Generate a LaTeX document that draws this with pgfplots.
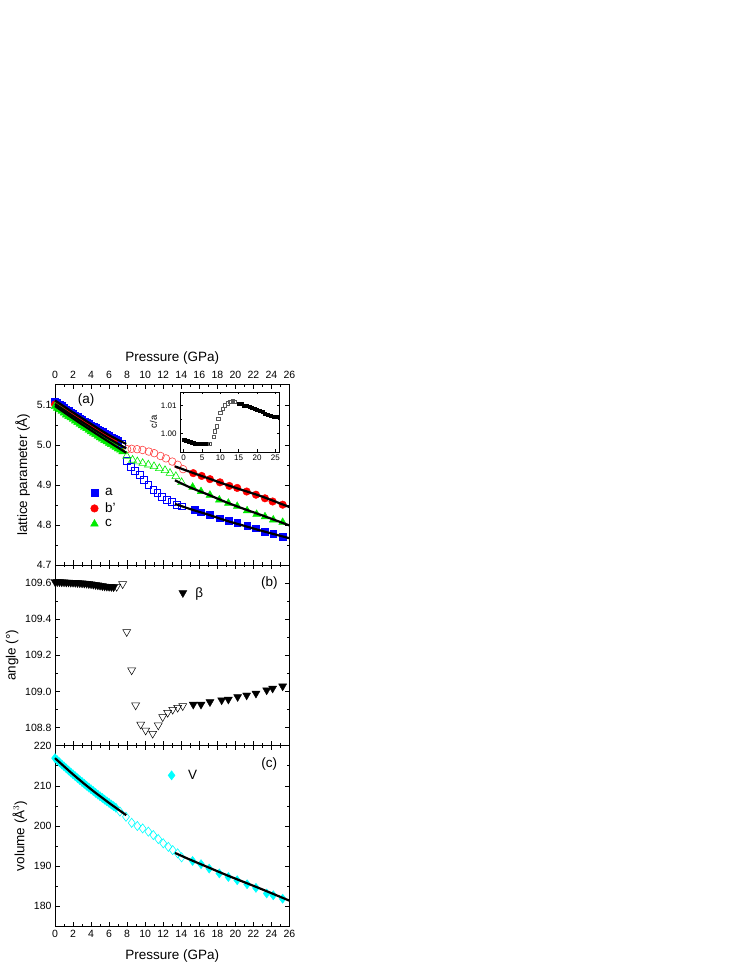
\documentclass[border=0pt]{standalone}
\usepackage{fontspec}
\setmainfont{Liberation Sans}
\usepackage{pgfplots}
\pgfplotsset{compat=1.18}
\definecolor{oblue}{RGB}{0,0,255}
\definecolor{ored}{RGB}{255,0,0}
\definecolor{ogreen}{RGB}{0,235,0}
\definecolor{ocyan}{RGB}{0,255,255}
\pgfplotsset{
  panel/.style={
    scale only axis, width=234.5pt, height=180.7pt,
    xmin=0, xmax=26, xtick={0,2,...,26}, minor x tick num=1,
    tick align=inside,
    axis line style={line width=0.9pt},
    every tick/.style={black, line width=0.7pt},
    major tick length=4.5pt, minor tick length=2.5pt,
    ticklabel style={font=\fontsize{10.5}{12}\selectfont},
    label style={font=\fontsize{13.5}{16}\selectfont},
    /pgf/number format/assume math mode=true,
    legend cell align=left,
    clip=false, clip marker paths=true,
    legend image code/.code={\path[draw=none,fill=none] (0cm,0cm) (0.45cm,0cm); \draw[##1] plot coordinates {(0.15cm,0cm)};},
  },
  fitline/.style={black, line width=2.2pt, smooth, no marks},
}
\begin{document}
\begin{tikzpicture}[x=1pt,y=1pt]
\path[use as bounding box] (0,0) rectangle (747,967);

%% ---------------- panel (a) ----------------
\begin{axis}[panel, at={(55pt,402pt)}, anchor=south west,
  xticklabel pos=upper, xlabel={Pressure (GPa)},
  xticklabel style={yshift=2pt},
  ymin=4.7, ymax=5.1525, ytick={4.7,4.8,4.9,5.0,5.1}, minor y tick num=1,
  yticklabel style={/pgf/number format/.cd, fixed, fixed zerofill, precision=1},
  ylabel={lattice parameter (Å)},
  legend style={at={(axis cs:3.55,4.902)}, anchor=north west, draw=none, fill=none,
    font=\fontsize{13.5}{16}\selectfont, row sep=1.5pt},
]
% filled a
\addplot[only marks, mark=square*, mark size=3.4pt, color=oblue] coordinates {
(0,5.110)(0.25,5.106)(0.5,5.102)(0.75,5.098)(1.0,5.094)(1.25,5.090)(1.5,5.086)(1.75,5.082)
(2.0,5.079)(2.25,5.075)(2.5,5.071)(2.75,5.067)(3.0,5.064)(3.25,5.060)(3.5,5.057)(3.75,5.053)
(4.0,5.050)(4.25,5.046)(4.5,5.043)(4.75,5.040)(5.0,5.036)(5.25,5.033)(5.5,5.030)(5.75,5.026)
(6.0,5.023)(6.25,5.020)(6.5,5.017)(6.75,5.014)(7.0,5.011)
(15.45,4.838)(16.19,4.832)(17.18,4.826)(18.29,4.817)(19.25,4.811)(20.2,4.805)(21.3,4.798)
(22.28,4.792)(23.28,4.784)(24.2,4.778)(25.24,4.771)};
\addlegendentry{a}
% filled b'
\addplot[only marks, mark=*, mark size=3.8pt, color=ored] coordinates {
(0,5.102)(0.25,5.098)(0.5,5.094)(0.75,5.090)(1.0,5.086)(1.25,5.082)(1.5,5.078)(1.75,5.074)
(2.0,5.071)(2.25,5.067)(2.5,5.063)(2.75,5.059)(3.0,5.056)(3.25,5.052)(3.5,5.048)(3.75,5.045)
(4.0,5.041)(4.25,5.038)(4.5,5.034)(4.75,5.031)(5.0,5.027)(5.25,5.024)(5.5,5.021)(5.75,5.017)
(6.0,5.014)(6.25,5.011)(6.5,5.008)
(15.33,4.930)(16.26,4.923)(17.18,4.915)(18.29,4.907)(19.33,4.898)(20.2,4.893)(21.25,4.884)
(22.28,4.876)(23.28,4.867)(24.13,4.859)(25.24,4.851)};
\addlegendentry{b'}
% filled c
\addplot[only marks, mark=triangle*, mark size=4.5pt, color=ogreen] coordinates {
(0,5.097)(0.25,5.093)(0.5,5.089)(0.75,5.085)(1.0,5.081)(1.25,5.076)(1.5,5.072)(1.75,5.069)
(2.0,5.065)(2.25,5.061)(2.5,5.057)(2.75,5.053)(3.0,5.049)(3.25,5.045)(3.5,5.042)(3.75,5.038)
(4.0,5.034)(4.25,5.030)(4.5,5.027)(4.75,5.023)(5.0,5.019)(5.25,5.016)(5.5,5.012)(5.75,5.009)
(6.0,5.005)(6.25,5.002)(6.5,4.998)(6.75,4.995)(7.0,4.991)(7.25,4.988)(7.5,4.984)
(15.26,4.895)(16.19,4.884)(17.18,4.875)(18.22,4.863)(19.22,4.855)(20.2,4.847)(21.3,4.836)
(22.35,4.827)(23.28,4.821)(24.2,4.813)(25.24,4.807)};
\addlegendentry{c}
% open a
\addplot[forget plot, only marks, mark=square, mark size=3.4pt, color=oblue, mark options={line width=0.6pt}] coordinates {
(7.4,5.003)(7.95,4.960)(8.4,4.945)(8.87,4.936)(9.42,4.926)(9.87,4.913)(10.35,4.900)(10.9,4.888)
(11.34,4.880)(11.83,4.871)(12.38,4.863)(12.94,4.859)(13.49,4.851)(14.04,4.847)};
% open b'
\addplot[forget plot, only marks, mark=o, mark size=3.8pt, color=ored!75, mark options={line width=0.6pt}] coordinates {
(8.0,4.990)(8.5,4.991)(9.1,4.990)(9.7,4.988)(10.4,4.984)(11.0,4.980)(11.7,4.973)(12.3,4.967)
(13.0,4.959)(13.6,4.951)(14.2,4.940)};
% open c
\addplot[forget plot, only marks, mark=triangle, mark size=4.5pt, color=ogreen, mark options={line width=0.6pt}] coordinates {
(7.95,4.973)(8.6,4.963)(9.13,4.959)(9.72,4.955)(10.35,4.951)(10.98,4.947)(11.57,4.942)
(12.2,4.937)(12.75,4.930)(13.4,4.922)(14.04,4.907)};
% fits low
\addplot[forget plot, fitline] coordinates {(0,5.112)(2,5.082)(4,5.053)(6,5.025)(7.9,5.003)};
\addplot[forget plot, fitline] coordinates {(0,5.103)(2,5.073)(4,5.044)(6,5.016)(7.9,4.992)};
\addplot[forget plot, fitline] coordinates {(0,5.098)(2,5.067)(4,5.037)(6,5.008)(7.9,4.981)};
% fits high
\addplot[forget plot, fitline] coordinates {(13.3,4.853)(15,4.840)(17,4.826)(19,4.811)(21,4.798)(23,4.785)(26,4.767)};
\addplot[forget plot, fitline] coordinates {(13.3,4.947)(15,4.933)(17,4.917)(19,4.901)(21,4.886)(23,4.871)(26,4.845)};
\addplot[forget plot, fitline] coordinates {(13.3,4.912)(15,4.894)(17,4.876)(19,4.857)(21,4.840)(23,4.824)(26,4.799)};
\node[font=\fontsize{13.5}{16}\selectfont] at (axis cs:3.44,5.113) {(a)};
\end{axis}

%% ---------------- inset ----------------
\begin{axis}[scale only axis, width=99pt, height=60pt, at={(180pt,515pt)}, anchor=south west,
  xmin=-1, xmax=26, ymin=0.9935, ymax=1.0147,
  xtick={0,5,...,25}, ytick={1.00,1.01}, minor y tick num=1,
  tick align=inside, major tick length=2.5pt, minor tick length=1.5pt,
  axis line style={line width=0.6pt}, every tick/.style={black, line width=0.5pt},
  ticklabel style={font=\fontsize{8}{9}\selectfont},
  yticklabel style={/pgf/number format/.cd, fixed, fixed zerofill, precision=2},
  /pgf/number format/assume math mode=true,
  ylabel={c/a}, ylabel style={font=\fontsize{9.5}{11}\selectfont, yshift=-3pt},
  xticklabel style={yshift=1pt},
  axis background/.style={fill=white},
  clip marker paths=true,
]
\addplot[only marks, mark=square*, mark size=1.5pt, color=black] coordinates {
(0,0.9978)(0.25,0.9977)(0.5,0.9976)(0.75,0.9975)(1,0.9974)(1.25,0.9973)(1.5,0.9972)(1.75,0.9971)
(2,0.9970)(2.25,0.9969)(2.5,0.9968)(2.75,0.9967)(3,0.9966)(3.25,0.9966)(3.5,0.9965)(3.75,0.9965)
(4,0.9964)(4.25,0.9964)(4.5,0.9963)(4.75,0.9963)(5,0.9963)(5.25,0.9963)(5.5,0.9963)(5.75,0.9963)
(6,0.9963)(6.25,0.9963)(6.5,0.9963)
(15.1,1.0107)(15.8,1.0104)(16.5,1.0100)(17.2,1.0097)(17.9,1.0094)(18.6,1.0090)(19.3,1.0087)
(20.0,1.0083)(20.7,1.0080)(21.5,1.0076)(22.2,1.0072)(23.0,1.0068)(23.7,1.0065)(24.5,1.0061)(25.3,1.0058)};
\addplot[only marks, mark=square, mark size=1.7pt, color=black!65, mark options={line width=0.45pt}] coordinates {
(7.15,0.9964)(8.15,0.9990)(8.5,1.0008)(9.05,1.0026)(9.4,1.0052)(9.97,1.0073)(10.6,1.0088)
(11.2,1.0100)(11.96,1.0108)(12.7,1.0112)(13.3,1.0114)(13.9,1.0112)};
\end{axis}

%% ---------------- panel (b) ----------------
\begin{axis}[panel, at={(55pt,221.3pt)}, anchor=south west,
  xticklabels={},
  ymin=108.7, ymax=109.7, ytick={108.8,109.0,109.2,109.4,109.6}, minor y tick num=1,
  yticklabel style={/pgf/number format/.cd, fixed, fixed zerofill, precision=1},
  ylabel={angle (°)},
  legend style={at={(axis cs:13.35,109.6)}, anchor=north west, draw=none, fill=none,
    font=\fontsize{13.5}{16}\selectfont, /tikz/every odd column/.append style={column sep=2pt}},
]
\addplot[only marks, mark=triangle*, mark size=4.6pt, color=black, mark options={rotate=180}] coordinates {
(0,109.607)(0.25,109.606)(0.5,109.606)(0.75,109.605)(1,109.605)(1.25,109.604)(1.5,109.604)(1.75,109.603)
(2,109.603)(2.25,109.602)(2.5,109.601)(2.75,109.600)(3,109.599)(3.25,109.598)(3.5,109.597)(3.75,109.595)
(4,109.594)(4.25,109.592)(4.5,109.590)(4.75,109.588)(5,109.586)(5.25,109.584)(5.5,109.582)(5.75,109.581)
(6,109.580)(6.25,109.579)(6.5,109.578)
(15.33,108.928)(16.19,108.928)(17.18,108.942)(18.48,108.952)(19.22,108.956)(20.25,108.970)
(21.25,108.979)(22.28,108.989)(23.47,109.007)(24.13,109.017)(25.24,109.029)};
\addlegendentry{β}
\addplot[forget plot, only marks, mark=triangle, mark size=4.6pt, color=black, mark options={rotate=180, line width=0.5pt}] coordinates {
(6.84,109.580)(7.5,109.595)(7.95,109.330)(8.5,109.118)(8.94,108.924)(9.5,108.818)(10.05,108.785)
(10.83,108.767)(11.45,108.813)(11.94,108.859)(12.49,108.883)(13.05,108.900)(13.6,108.911)(14.16,108.920)};
\node[font=\fontsize{13.5}{16}\selectfont] at (axis cs:23.76,109.6) {(b)};
\end{axis}

%% ---------------- panel (c) ----------------
\begin{axis}[panel, at={(55pt,40.6pt)}, anchor=south west,
  xlabel={Pressure (GPa)}, xlabel style={yshift=-5pt},
  ymin=175, ymax=220, ytick={180,190,200,210,220}, minor y tick num=1,
  ylabel={volume (Å$^3$)},
  legend style={at={(axis cs:12.1,215)}, anchor=north west, draw=none, fill=none,
    font=\fontsize{13.5}{16}\selectfont, /tikz/every odd column/.append style={column sep=6pt}},
]
\addplot[only marks, mark=diamond*, mark size=4.6pt, color=ocyan] coordinates {
(0,216.90)(0.25,216.38)(0.5,215.86)(0.75,215.35)(1,214.84)(1.25,214.34)(1.5,213.84)(1.75,213.35)
(2,212.86)(2.25,212.38)(2.5,211.90)(2.75,211.43)(3,210.96)(3.25,210.50)(3.5,210.04)(3.75,209.59)
(4,209.14)(4.25,208.70)(4.5,208.26)(4.75,207.83)(5,207.40)(5.25,206.98)(5.5,206.56)(5.75,206.15)
(6,205.74)(6.25,205.34)(6.5,204.94)(6.75,204.55)
(15.26,191.3)(16.19,190.5)(17.1,189.4)(18.22,188.2)(19.22,187.3)(20.2,186.5)(21.3,185.5)
(22.28,184.6)(23.47,183.2)(24.2,182.75)(25.24,181.9)};
\addlegendentry{V}
\addplot[forget plot, only marks, mark=diamond, mark size=4.6pt, color=ocyan, mark options={line width=0.6pt}] coordinates {
(7.2,203.6)(7.87,202.3)(8.5,200.8)(9.13,200.0)(9.72,199.4)(10.35,198.6)(10.9,197.75)(11.45,196.75)
(12.0,195.7)(12.57,194.8)(13.05,194.0)(13.6,193.2)(14.04,192.2)};
\addplot[forget plot, fitline] coordinates {(0,216.9)(2,212.86)(4,209.14)(6,205.74)(7.9,202.7)};
\addplot[forget plot, fitline] coordinates {(13.3,193.3)(15,191.6)(17,189.7)(19,187.8)(21,186.0)(23,184.2)(26,181.4)};
\node[font=\fontsize{13.5}{16}\selectfont] at (axis cs:23.76,215.5) {(c)};
\end{axis}
\end{tikzpicture}
\end{document}
